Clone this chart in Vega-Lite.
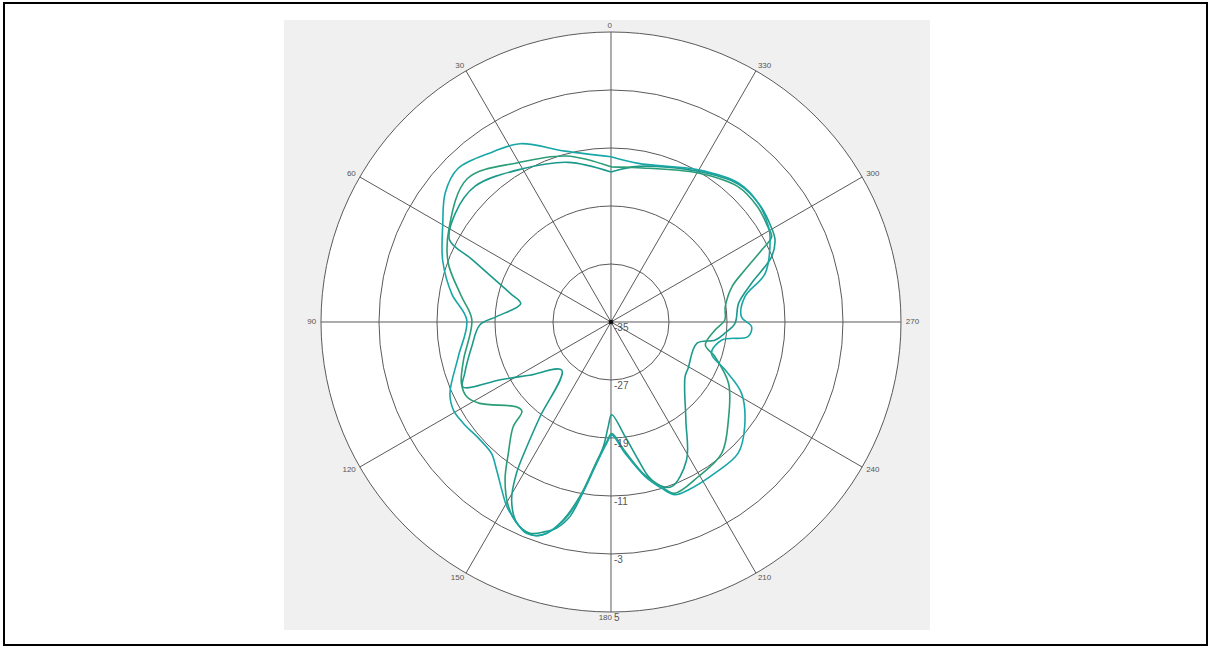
{
  "$schema": "https://vega.github.io/schema/vega-lite/v6.json",
  "width": 1203,
  "height": 642,
  "autosize": "none",
  "padding": {"left": 4, "top": 3, "right": 3, "bottom": 3},
  "background": "white",
  "config": {"view": {"stroke": "#000000", "strokeWidth": 2}},
  "datasets": {
    "panel": [{"x1": -45.1, "x2": 44.0, "y1": 41.66, "y2": -42.48}],
    "rings": [{"db": -27}, {"db": -19}, {"db": -11}, {"db": -3}, {"db": 5}],
    "spokes": [{"a": 0}, {"a": 30}, {"a": 60}, {"a": 90}, {"a": 120}, {"a": 150}, {"a": 180}, {"a": 210}, {"a": 240}, {"a": 270}, {"a": 300}, {"a": 330}],
    "rlabels": [{"db": -35}, {"db": -27}, {"db": -19}, {"db": -11}, {"db": -3}, {"db": 5}],
    "curves": [
      {"s": "A", "a": 0, "v": -14.3}, {"s": "A", "a": 15, "v": -12.2}, {"s": "A", "a": 30, "v": -10.6}, {"s": "A", "a": 45, "v": -8.5}, {"s": "A", "a": 55, "v": -8.8}, {"s": "A", "a": 63, "v": -10.0}, {"s": "A", "a": 65.7, "v": -13.9}, {"s": "A", "a": 69.5, "v": -17.6}, {"s": "A", "a": 74.2, "v": -20.6}, {"s": "A", "a": 78.5, "v": -22.3}, {"s": "A", "a": 87.3, "v": -19.2}, {"s": "A", "a": 91.3, "v": -16.9}, {"s": "A", "a": 100, "v": -15.5}, {"s": "A", "a": 109.4, "v": -13.6}, {"s": "A", "a": 113.7, "v": -12.7}, {"s": "A", "a": 117.6, "v": -17.8}, {"s": "A", "a": 123.2, "v": -21.6}, {"s": "A", "a": 134.4, "v": -25.5}, {"s": "A", "a": 143.2, "v": -18.6}, {"s": "A", "a": 146, "v": -14.2}, {"s": "A", "a": 148, "v": -10.4}, {"s": "A", "a": 150.8, "v": -6.9}, {"s": "A", "a": 154.9, "v": -4.4}, {"s": "A", "a": 159, "v": -3.8}, {"s": "A", "a": 162.6, "v": -4.7}, {"s": "A", "a": 165.2, "v": -5.6}, {"s": "A", "a": 168.1, "v": -7.6}, {"s": "A", "a": 172.3, "v": -13.5}, {"s": "A", "a": 176.5, "v": -17.8}, {"s": "A", "a": 178.5, "v": -20.6}, {"s": "A", "a": 180.4, "v": -22.2}, {"s": "A", "a": 187, "v": -19.1}, {"s": "A", "a": 191.2, "v": -15.6}, {"s": "A", "a": 193.6, "v": -13.1}, {"s": "A", "a": 196.2, "v": -11.6}, {"s": "A", "a": 200.2, "v": -10.8}, {"s": "A", "a": 208.7, "v": -13.3}, {"s": "A", "a": 217.4, "v": -18.0}, {"s": "A", "a": 233.5, "v": -22.3}, {"s": "A", "a": 239.1, "v": -22.6}, {"s": "A", "a": 256, "v": -22.8}, {"s": "A", "a": 260.2, "v": -20.4}, {"s": "A", "a": 264.5, "v": -19.2}, {"s": "A", "a": 269.4, "v": -17.9}, {"s": "A", "a": 278.4, "v": -17.2}, {"s": "A", "a": 285.4, "v": -14.9}, {"s": "A", "a": 292.1, "v": -11.1}, {"s": "A", "a": 296.6, "v": -9.7}, {"s": "A", "a": 301, "v": -9.3}, {"s": "A", "a": 308, "v": -8.9}, {"s": "A", "a": 317, "v": -9.1}, {"s": "A", "a": 330, "v": -11.0}, {"s": "A", "a": 350, "v": -13.2}, {"s": "A", "a": 360, "v": -14.3},
      {"s": "B", "a": 0, "v": -13.6}, {"s": "B", "a": 15, "v": -11.3}, {"s": "B", "a": 30, "v": -9.6}, {"s": "B", "a": 45, "v": -7.0}, {"s": "B", "a": 60, "v": -9.2}, {"s": "B", "a": 70, "v": -11.1}, {"s": "B", "a": 80, "v": -14.0}, {"s": "B", "a": 89, "v": -15.8}, {"s": "B", "a": 104.4, "v": -14.0}, {"s": "B", "a": 112.3, "v": -12.7}, {"s": "B", "a": 117.4, "v": -12.6}, {"s": "B", "a": 121.8, "v": -13.7}, {"s": "B", "a": 132.1, "v": -17.5}, {"s": "B", "a": 135.1, "v": -17.6}, {"s": "B", "a": 137, "v": -15.2}, {"s": "B", "a": 142, "v": -12.0}, {"s": "B", "a": 146.1, "v": -8.8}, {"s": "B", "a": 150.9, "v": -5.9}, {"s": "B", "a": 155.5, "v": -4.2}, {"s": "B", "a": 160, "v": -3.7}, {"s": "B", "a": 163, "v": -4.5}, {"s": "B", "a": 166.4, "v": -6.9}, {"s": "B", "a": 170, "v": -10.7}, {"s": "B", "a": 174.2, "v": -15.7}, {"s": "B", "a": 178, "v": -18.5}, {"s": "B", "a": 180.4, "v": -19.6}, {"s": "B", "a": 186.1, "v": -17.1}, {"s": "B", "a": 192.4, "v": -13.4}, {"s": "B", "a": 197, "v": -11.3}, {"s": "B", "a": 200.3, "v": -9.8}, {"s": "B", "a": 209.4, "v": -10.5}, {"s": "B", "a": 220.1, "v": -11.3}, {"s": "B", "a": 230.1, "v": -13.9}, {"s": "B", "a": 242.4, "v": -16.7}, {"s": "B", "a": 251.6, "v": -19.9}, {"s": "B", "a": 256.3, "v": -21.6}, {"s": "B", "a": 265.6, "v": -20.6}, {"s": "B", "a": 271, "v": -19.3}, {"s": "B", "a": 277.6, "v": -19.1}, {"s": "B", "a": 286.3, "v": -17.6}, {"s": "B", "a": 291.2, "v": -15.2}, {"s": "B", "a": 295.5, "v": -12.0}, {"s": "B", "a": 298, "v": -9.9}, {"s": "B", "a": 301.2, "v": -9.7}, {"s": "B", "a": 308, "v": -9.3}, {"s": "B", "a": 316.7, "v": -9.4}, {"s": "B", "a": 329.7, "v": -11.2}, {"s": "B", "a": 350.1, "v": -13.4}, {"s": "B", "a": 360, "v": -13.6},
      {"s": "C", "a": 0, "v": -12.2}, {"s": "C", "a": 15, "v": -10.6}, {"s": "C", "a": 27, "v": -7.4}, {"s": "C", "a": 35, "v": -6.4}, {"s": "C", "a": 45, "v": -5.1}, {"s": "C", "a": 52, "v": -6.0}, {"s": "C", "a": 60, "v": -8.2}, {"s": "C", "a": 70, "v": -10.3}, {"s": "C", "a": 80, "v": -12.7}, {"s": "C", "a": 89.2, "v": -15.1}, {"s": "C", "a": 102.8, "v": -13.4}, {"s": "C", "a": 113.9, "v": -10.7}, {"s": "C", "a": 119.2, "v": -10.1}, {"s": "C", "a": 124.4, "v": -10.3}, {"s": "C", "a": 132, "v": -10.7}, {"s": "C", "a": 137.7, "v": -10.5}, {"s": "C", "a": 142.3, "v": -9.2}, {"s": "C", "a": 146.9, "v": -7.4}, {"s": "C", "a": 150.5, "v": -5.8}, {"s": "C", "a": 154.9, "v": -4.4}, {"s": "C", "a": 158.2, "v": -3.6}, {"s": "C", "a": 162, "v": -4.1}, {"s": "C", "a": 166.4, "v": -6.7}, {"s": "C", "a": 170, "v": -10.4}, {"s": "C", "a": 174.2, "v": -15.4}, {"s": "C", "a": 178, "v": -18.3}, {"s": "C", "a": 180.4, "v": -19.4}, {"s": "C", "a": 186.1, "v": -16.8}, {"s": "C", "a": 192.4, "v": -13.2}, {"s": "C", "a": 197, "v": -11.0}, {"s": "C", "a": 200.3, "v": -9.6}, {"s": "C", "a": 204.7, "v": -9.5}, {"s": "C", "a": 214.5, "v": -9.7}, {"s": "C", "a": 224.1, "v": -9.8}, {"s": "C", "a": 232, "v": -11.6}, {"s": "C", "a": 241.4, "v": -14.5}, {"s": "C", "a": 247.2, "v": -17.9}, {"s": "C", "a": 252.7, "v": -20.5}, {"s": "C", "a": 260.8, "v": -19.5}, {"s": "C", "a": 263.9, "v": -16.0}, {"s": "C", "a": 268.1, "v": -15.6}, {"s": "C", "a": 272.3, "v": -17.0}, {"s": "C", "a": 280.7, "v": -16.2}, {"s": "C", "a": 287.5, "v": -12.7}, {"s": "C", "a": 297.3, "v": -10.3}, {"s": "C", "a": 301.2, "v": -9.6}, {"s": "C", "a": 308.9, "v": -8.9}, {"s": "C", "a": 317.5, "v": -9.0}, {"s": "C", "a": 330.1, "v": -10.8}, {"s": "C", "a": 350.2, "v": -12.8}, {"s": "C", "a": 360, "v": -12.2}
    ]
  },
  "layer": [
    {
      "data": {"name": "panel"},
      "mark": {"type": "rect", "fill": "#f0f0f0"},
      "encoding": {
        "x": {"field": "x1", "type": "quantitative", "scale": {"domain": [-83.724, 82.207], "nice": false, "zero": false}, "axis": null},
        "x2": {"field": "x2"},
        "y": {"field": "y1", "type": "quantitative", "scale": {"domain": [-44.552, 44.0], "nice": false, "zero": false}, "axis": null},
        "y2": {"field": "y2"}
      }
    },
    {
      "data": {"values": [{"db": 5}]},
      "transform": [
        {"calculate": "datum.db+35", "as": "rr"},
        {"calculate": "0", "as": "cx"},
        {"calculate": "0", "as": "cy"}
      ],
      "mark": {"type": "point", "shape": "circle", "filled": true, "color": "#ffffff", "opacity": 1, "strokeWidth": 0},
      "encoding": {
        "x": {"field": "cx", "type": "quantitative", "axis": null},
        "y": {"field": "cy", "type": "quantitative", "axis": null},
        "size": {"field": "rr", "type": "quantitative", "scale": {"type": "pow", "exponent": 2, "domain": [0, 40], "range": [0, 336400]}, "legend": null}
      }
    },
    {
      "data": {"name": "rings"},
      "transform": [
        {"calculate": "datum.db+35", "as": "rr"},
        {"calculate": "0", "as": "cx"},
        {"calculate": "0", "as": "cy"}
      ],
      "mark": {"type": "point", "shape": "circle", "filled": false, "color": "#5a5a5a", "opacity": 1, "strokeWidth": 1},
      "encoding": {
        "x": {"field": "cx", "type": "quantitative", "axis": null},
        "y": {"field": "cy", "type": "quantitative", "axis": null},
        "size": {"field": "rr", "type": "quantitative", "scale": {"type": "pow", "exponent": 2, "domain": [0, 40], "range": [0, 336400]}, "legend": null}
      }
    },
    {
      "data": {"name": "spokes"},
      "transform": [
        {"calculate": "0", "as": "ox"},
        {"calculate": "0", "as": "oy"},
        {"calculate": "-40*sin(datum.a*PI/180)", "as": "sx"},
        {"calculate": "40*cos(datum.a*PI/180)", "as": "sy"}
      ],
      "mark": {"type": "rule", "color": "#5a5a5a", "strokeWidth": 1},
      "encoding": {
        "x": {"field": "ox", "type": "quantitative", "axis": null},
        "y": {"field": "oy", "type": "quantitative", "axis": null},
        "x2": {"field": "sx"},
        "y2": {"field": "sy"}
      }
    },
    {
      "data": {"values": [{"db": -35}]},
      "transform": [
        {"calculate": "0", "as": "cx"},
        {"calculate": "0", "as": "cy"}
      ],
      "mark": {"type": "point", "shape": "circle", "filled": true, "color": "#111111", "opacity": 1, "size": 22},
      "encoding": {
        "x": {"field": "cx", "type": "quantitative", "axis": null},
        "y": {"field": "cy", "type": "quantitative", "axis": null}
      }
    },
    {
      "data": {"name": "curves"},
      "transform": [
        {"calculate": "-(datum.v+35)*sin(datum.a*PI/180)", "as": "cx"},
        {"calculate": "(datum.v+35)*cos(datum.a*PI/180)", "as": "cy"}
      ],
      "mark": {"type": "line", "interpolate": "catmull-rom", "strokeWidth": 1.6},
      "encoding": {
        "x": {"field": "cx", "type": "quantitative", "axis": null},
        "y": {"field": "cy", "type": "quantitative", "axis": null},
        "color": {"field": "s", "type": "nominal", "scale": {"domain": ["A", "B", "C"], "range": ["#1b9a8b", "#2a9d78", "#19a6a6"]}, "legend": null},
        "order": {"field": "a", "type": "quantitative"}
      }
    },
    {
      "data": {"name": "spokes"},
      "transform": [
        {"filter": "datum.a <= 180"},
        {"calculate": "-40.8*sin(datum.a*PI/180)", "as": "lx"},
        {"calculate": "40.8*cos(datum.a*PI/180)", "as": "ly"}
      ],
      "mark": {"type": "text", "font": "Liberation Sans", "fontSize": 8, "color": "#555555", "align": "right", "baseline": "middle", "dx": 1},
      "encoding": {
        "x": {"field": "lx", "type": "quantitative", "axis": null},
        "y": {"field": "ly", "type": "quantitative", "axis": null},
        "text": {"field": "a", "type": "nominal"}
      }
    },
    {
      "data": {"name": "spokes"},
      "transform": [
        {"filter": "datum.a > 180"},
        {"calculate": "-40.8*sin(datum.a*PI/180)", "as": "lx"},
        {"calculate": "40.8*cos(datum.a*PI/180)", "as": "ly"}
      ],
      "mark": {"type": "text", "font": "Liberation Sans", "fontSize": 8, "color": "#555555", "align": "left", "baseline": "middle", "dx": -1},
      "encoding": {
        "x": {"field": "lx", "type": "quantitative", "axis": null},
        "y": {"field": "ly", "type": "quantitative", "axis": null},
        "text": {"field": "a", "type": "nominal"}
      }
    },
    {
      "data": {"name": "rlabels"},
      "transform": [
        {"calculate": "0", "as": "ox"},
        {"calculate": "-(datum.db+35)", "as": "ry"}
      ],
      "mark": {"type": "text", "font": "Liberation Sans", "fontSize": 10, "color": "#555555", "align": "left", "baseline": "top", "dx": 3, "dy": 1},
      "encoding": {
        "x": {"field": "ox", "type": "quantitative", "axis": null},
        "y": {"field": "ry", "type": "quantitative", "axis": null},
        "text": {"field": "db", "type": "nominal"}
      }
    }
  ]
}
